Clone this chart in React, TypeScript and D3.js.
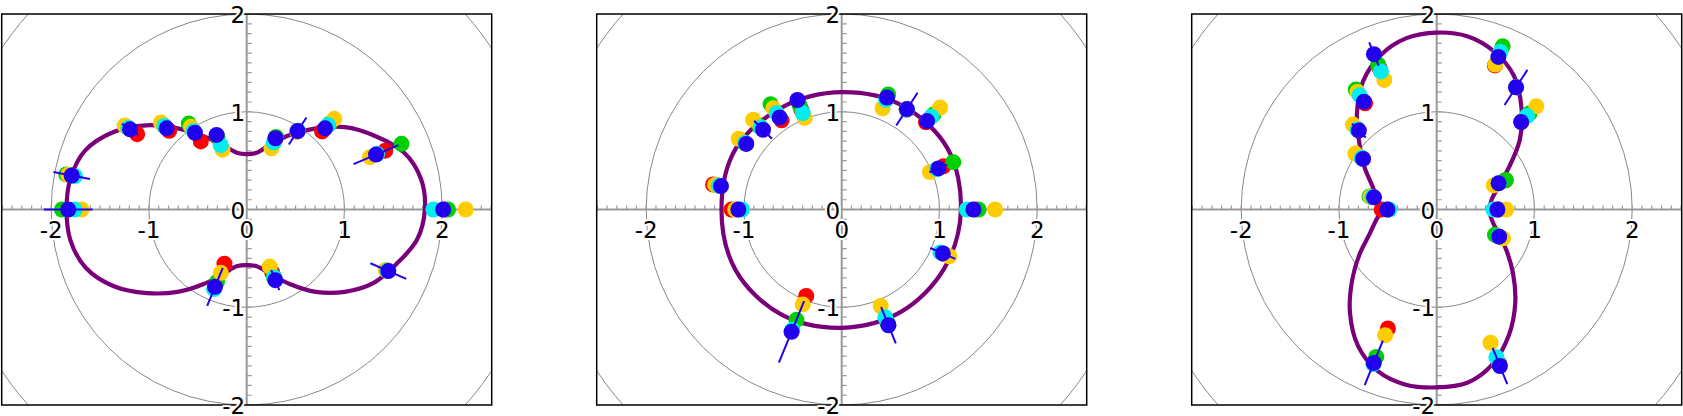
import React from "react";
import * as d3 from "d3";

// ---------- data ----------
const angles = [0, 23, 46, 57, 68, 112, 124, 134.6, 145.5, 169, 180, 247.7, 292, 336.5];

const p1Red = [2.03, 1.54, 1.11, 0.95, 0.78, 0.8, 0.84, 1.13, 1.36, 1.83, 1.83, 0.6, 0.7, 1.56];
const p1Green = [2.06, 1.72, 1.22, 0.96, 0.8, 0.81, 1.06, 1.21, 1.5, 1.88, 1.89, 0.8, 0.74, 1.57];
const p1Cyan = [1.91, 1.45, 1.2, 0.96, 0.74, 0.71, 0.97, 1.2, 1.47, 1.79, 1.76, 0.88, 0.75, 1.57];
const p1Gold = [2.24, 1.37, 1.29, 0.95, 0.675, 0.66, 1.02, 1.25, 1.515, 1.86, 1.69, 0.7, 0.63, 1.55];
const p1Blue = [2.01, 1.437, 1.154, 0.957, 0.786, 0.823, 0.947, 1.166, 1.448, 1.824, 1.826, 0.855, 0.78, 1.58];
const p1Err = [0.05, 0.25, 0.05, 0.165, 0.06, 0.05, 0.06, 0.05, 0.1, 0.19, 0.25, 0.21, 0.11, 0.2];

const p2Red = [1.37, 1.13, 1.24, 1.22, 1.24, 1.1, 1.1, 1.21, 1.19, 1.34, 1.126, 0.956, 1.25, 1.13];
const p2Green = [1.4, 1.24, 1.35, 1.22, 1.27, 1.15, 1.3, 1.2, 1.2, 1.3, 1.07, 1.22, 1.25, 1.14];
const p2Cyan = [1.28, 1.06, 1.32, 1.22, 1.21, 1.065, 1.19, 1.18, 1.2, 1.28, 1.02, 1.33, 1.19, 1.1];
const p2Gold = [1.57, 0.98, 1.45, 1.22, 1.116, 1.01, 1.25, 1.29, 1.278, 1.32, 1.09, 1.05, 1.065, 1.2];
const p2Blue = [1.348, 1.075, 1.257, 1.225, 1.236, 1.208, 1.136, 1.146, 1.184, 1.258, 1.058, 1.353, 1.277, 1.128];
const p2Err = [0.04, 0.1, 0.04, 0.2, 0.04, 0.04, 0.04, 0.13, 0.04, 0.04, 0.04, 0.34, 0.2, 0.14];

const p3Red = [0.63, 0.76, 1.25, 1.49, 1.59, 1.56, 1.31, 1.15, 0.92, 0.69, 0.563, 1.315, 1.7, 0.69];
const p3Green = [0.63, 0.77, 1.37, 1.49, 1.8, 1.6, 1.48, 1.16, 0.93, 0.7, 0.5, 1.63, 1.7, 0.65];
const p3Cyan = [0.58, 0.69, 1.33, 1.49, 1.74, 1.524, 1.41, 1.15, 0.93, 0.67, 0.485, 1.71, 1.63, 0.69];
const p3Gold = [0.71, 0.634, 1.467, 1.49, 1.6, 1.43, 1.45, 1.22, 1.01, 0.69, 0.5, 1.39, 1.47, 0.74];
const p3Blue = [0.621, 0.688, 1.243, 1.49, 1.683, 1.714, 1.33, 1.134, 0.914, 0.653, 0.505, 1.696, 1.727, 0.697];
const p3Err = [0.04, 0.04, 0.04, 0.215, 0.04, 0.13, 0.04, 0.1, 0.04, 0.04, 0.04, 0.245, 0.2, 0.04];

// model curves: radius at evenly spaced angles starting at 0 deg
const curveAngles36 = d3.range(0, 360, 10);
const curveAngles12 = d3.range(0, 360, 30);
const p1Curve = [1.823, 1.81, 1.71, 1.51, 1.31, 1.08, 0.88, 0.71, 0.59, 0.567, 0.59, 0.7, 0.86, 1.08, 1.34, 1.58, 1.76, 1.83,
  1.843, 1.83, 1.75, 1.57, 1.33, 1.1, 0.88, 0.7, 0.59, 0.57, 0.59, 0.7, 0.88, 1.1, 1.31, 1.5, 1.63, 1.77];
const p2Curve = [1.22, 1.25, 1.23, 1.2, 1.21, 1.25, 1.23, 1.25, 1.24, 1.21, 1.21, 1.21];
const p3Curve = [0.54, 0.57, 0.67, 0.85, 1.11, 1.35, 1.58, 1.72, 1.8, 1.81, 1.78, 1.68, 1.51, 1.27, 1.03, 0.85, 0.7, 0.62,
  0.563, 0.63, 0.73, 0.91, 1.13, 1.38, 1.61, 1.76, 1.82, 1.82, 1.8, 1.68, 1.48, 1.25, 1.02, 0.82, 0.66, 0.57];

const xTickLabels = [-2, -1, 0, 1, 2];
const yTickLabels = [2, 1, 0, -1, -2];
const gridRadii = [1, 2, 3];

const COLORS = { red: "#ff0000", green: "#00d000", gold: "#ffcc00", cyan: "#00eeee", blue: "#2200ee" };

const panels = [
  { curve: p1Curve, curveAngles: curveAngles36, red: p1Red, green: p1Green, gold: p1Gold, cyan: p1Cyan, blue: p1Blue, err: p1Err },
  { curve: p2Curve, curveAngles: curveAngles12, red: p2Red, green: p2Green, gold: p2Gold, cyan: p2Cyan, blue: p2Blue, err: p2Err },
  { curve: p3Curve, curveAngles: curveAngles36, red: p3Red, green: p3Green, gold: p3Gold, cyan: p3Cyan, blue: p3Blue, err: p3Err },
];

const FONT = "'DejaVu Sans', sans-serif";

function Panel({ idx, left, p }: { idx: number; left: number; p: any }) {
  const PW = 490;
  const top = 14, bottom = 405;
  const half = PW / 2 / ((bottom - top) / 4);
  const x = d3.scaleLinear().domain([-half, half]).range([left, left + PW]);
  const y = d3.scaleLinear().domain([-2, 2]).range([bottom, top]);
  const toXY = (r: number, deg: number): [number, number] => {
    const t = (deg * Math.PI) / 180;
    return [x(r * Math.cos(t)), y(r * Math.sin(t))];
  };
  const clipId = `clip${idx}`;
  const curvePts = p.curve.map((r: number, i: number) => toXY(r, p.curveAngles[i]));
  const path = d3.line().curve(d3.curveCatmullRomClosed.alpha(0.5))(curvePts) || "";
  const x0 = x(0), y0 = y(0);
  const xMinor = d3.range(-25, 26).map((k) => k / 10);
  const yMinor = d3.range(-20, 21).map((k) => k / 10);
  const order: (keyof typeof COLORS)[] = ["red", "green", "gold", "cyan"];
  const halo = { stroke: "#fff", strokeWidth: 4, paintOrder: "stroke" as any, strokeLinejoin: "round" as any };
  return (
    <g>
      <defs>
        <clipPath id={clipId}>
          <rect x={left} y={top} width={PW} height={bottom - top} />
        </clipPath>
      </defs>
      <g clipPath={`url(#${clipId})`}>
        {gridRadii.map((r) => (
          <ellipse key={r} cx={x0} cy={y0} rx={x(r) - x0} ry={y0 - y(r)} fill="none" stroke="#888" strokeWidth={1} />
        ))}
        <line x1={left} x2={left + PW} y1={y0} y2={y0} stroke="#999" strokeWidth={2} />
        <line x1={x0} x2={x0} y1={top} y2={bottom} stroke="#999" strokeWidth={2} />
        {xMinor.map((v) => (
          <line key={"xt" + v} x1={x(v)} x2={x(v)} y1={y0} y2={y0 - 4} stroke="#999" strokeWidth={1.2} />
        ))}
        {yMinor.map((v) => (
          <line key={"yt" + v} x1={x0} x2={x0 + 5} y1={y(v)} y2={y(v)} stroke="#999" strokeWidth={1.2} />
        ))}
        <path d={path} fill="none" stroke="#7a007a" strokeWidth={4.2} />
        {order.map((c) =>
          (p[c] as number[]).map((r, i) => {
            const [cx, cy] = toXY(r, angles[i]);
            return <circle key={c + i} cx={cx} cy={cy} r={8} fill={COLORS[c]} />;
          })
        )}
        {(p.blue as number[]).map((r, i) => {
          const [cx, cy] = toXY(r, angles[i]);
          const [ax, ay] = toXY(r - p.err[i], angles[i]);
          const [bx, by] = toXY(r + p.err[i], angles[i]);
          return (
            <g key={"b" + i}>
              <line x1={ax} y1={ay} x2={bx} y2={by} stroke={COLORS.blue} strokeWidth={2} />
              <circle cx={cx} cy={cy} r={8} fill={COLORS.blue} />
            </g>
          );
        })}
      </g>
      <rect x={left} y={top} width={PW} height={bottom - top} fill="none" stroke="#000" strokeWidth={1.5} />
      <g fontFamily={FONT} fontSize={23} fill="#000">
        {xTickLabels.map((v) => (
          <text key={"xl" + v} x={x(v)} y={y0 + 28} textAnchor="middle" {...halo}>
            {v < 0 ? "-" + Math.abs(v) : String(v)}
          </text>
        ))}
        {yTickLabels.map((v) => (
          <text key={"yl" + v} x={x0 - 1.5} y={y(v) + 9} textAnchor="end" {...halo}>
            {v < 0 ? "-" + Math.abs(v) : String(v)}
          </text>
        ))}
      </g>
    </g>
  );
}

export default function App() {
  const lefts = [1.7, 596.7, 1191.7];
  return (
    <svg width={1683} height={416} style={{ position: "absolute", left: 0, top: 0, background: "#fff" }}>
      <rect x={0} y={0} width={1683} height={416} fill="#fff" />
      {panels.map((p, i) => (
        <Panel key={i} idx={i} left={lefts[i]} p={p} />
      ))}
    </svg>
  );
}
